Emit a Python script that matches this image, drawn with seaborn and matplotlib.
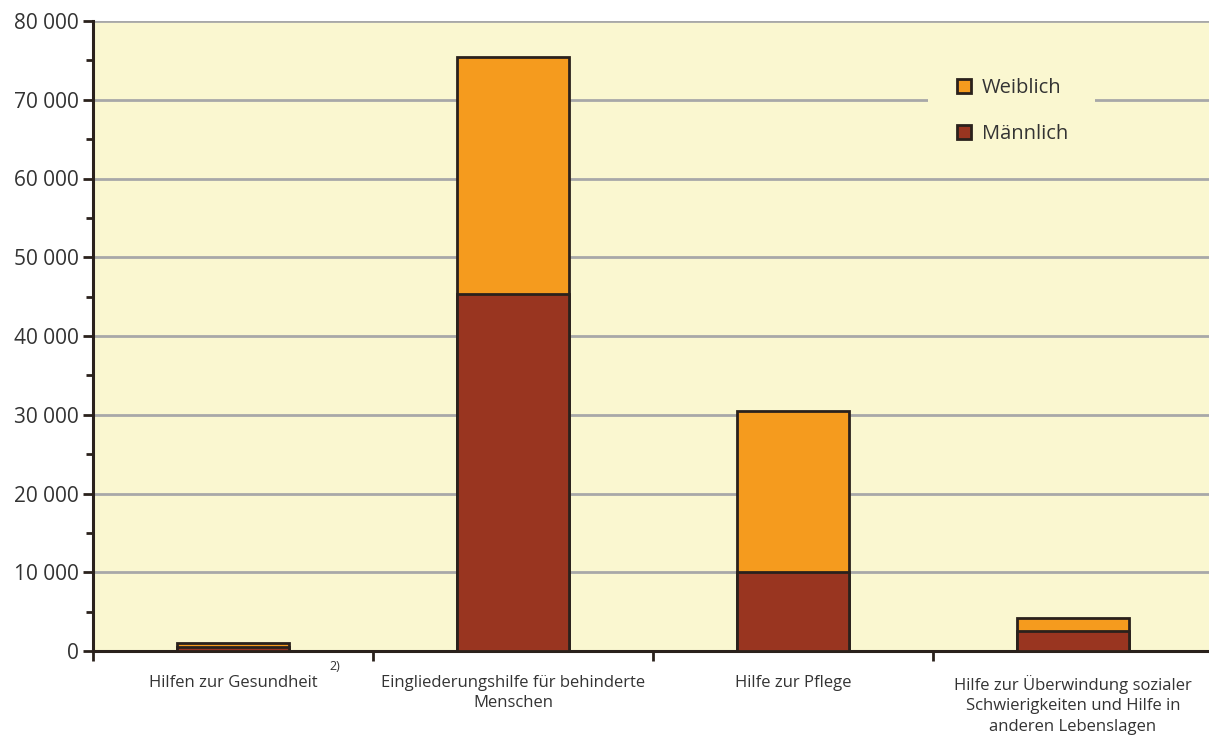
import matplotlib
matplotlib.use("Agg")
import matplotlib.pyplot as plt
import seaborn as sns
import pandas as pd
from matplotlib.patches import Patch, Rectangle
from matplotlib.ticker import FixedLocator, MultipleLocator, FuncFormatter

categories = [
    "Hilfen zur Gesundheit",
    "Eingliederungshilfe für behinderte\nMenschen",
    "Hilfe zur Pflege",
    "Hilfe zur Überwindung sozialer\nSchwierigkeiten und Hilfe in\nanderen Lebenslagen",
]
maennlich = [550, 45300, 10000, 2500]
weiblich = [500, 30100, 20500, 1700]
legend_labels = ["Weiblich", "Männlich"]

totals = [m + w for m, w in zip(maennlich, weiblich)]
df = pd.DataFrame({"cat": categories, "male": maennlich, "total": totals})

sns.set_style("white")
plt.rcParams["font.family"] = ["Open Sans", "DejaVu Sans"]

BG = "#FAF7D0"
ORANGE = "#F59B1E"
BROWN = "#993520"
EDGE = "#2A211C"
TXT = "#333333"
W, H = 1209, 738

fig = plt.figure(figsize=(W / 100, H / 100), dpi=100)
ax = fig.add_axes([93 / W, 87 / H, 1116 / W, 630 / H])
ax.set_facecolor(BG)

for y in range(10000, 80001, 10000):
    ax.axhline(y, color="#A8A8A8", lw=2, zorder=0.5)

sns.barplot(data=df, x="cat", y="total", color=ORANGE, width=0.4,
            edgecolor=EDGE, linewidth=2, saturation=1, ax=ax, zorder=2)
sns.barplot(data=df, x="cat", y="male", color=BROWN, width=0.4,
            edgecolor=EDGE, linewidth=2, saturation=1, ax=ax, zorder=3)

ax.set_xlim(-0.5, 3.5 - 4 / 280)
ax.set_ylim(0, 80000)
ax.set_xlabel("")
ax.set_ylabel("")

for s in ["top", "right"]:
    ax.spines[s].set_visible(False)
for s in ["left", "bottom"]:
    ax.spines[s].set_color(EDGE)
    ax.spines[s].set_linewidth(2.2)

ax.yaxis.set_major_locator(MultipleLocator(10000))
ax.yaxis.set_minor_locator(MultipleLocator(5000))
ax.yaxis.set_major_formatter(FuncFormatter(lambda v, p: f"{int(v):,}".replace(",", " ")))
ax.tick_params(axis="y", which="major", direction="out", length=7, width=2,
               color=EDGE, labelsize=15, labelcolor=TXT, pad=3, left=True)
ax.tick_params(axis="y", which="minor", direction="out", length=5, width=2,
               color=EDGE, left=True)

ax.set_xticks([0, 1, 2, 3])
ax.set_xticklabels(categories, fontsize=12, color=TXT, linespacing=1.4)
ax.tick_params(axis="x", which="major", length=0, pad=17)
ax.xaxis.set_minor_locator(FixedLocator([-0.5, 0.5, 1.5, 2.5]))
ax.tick_params(axis="x", which="minor", direction="out", length=7, width=2,
               color=EDGE, bottom=True)

fig.text(335 / W, 1 - 667 / H, "2)", fontsize=9, color=TXT, ha="center", va="center")

# background patch interrupting the gridline behind the legend
fig.patches.append(Rectangle((928 / W, 1 - 160 / H), (1095 - 928) / W, 100 / H,
                             transform=fig.transFigure, facecolor=BG,
                             edgecolor="none", zorder=5))

handles = [Patch(facecolor=ORANGE, edgecolor=EDGE, linewidth=2),
           Patch(facecolor=BROWN, edgecolor=EDGE, linewidth=2)]
leg = fig.legend(handles, legend_labels, loc="upper left",
                 bbox_to_anchor=(957 / W, 1 - 78 / H), frameon=False,
                 fontsize=14.5, handlelength=0.7, handleheight=0.7, handletextpad=0.55,
                 labelspacing=1.3, borderpad=0, borderaxespad=0, labelcolor=TXT)
leg.set_zorder(6)

fig.savefig("out.png", dpi=100, facecolor="white")
